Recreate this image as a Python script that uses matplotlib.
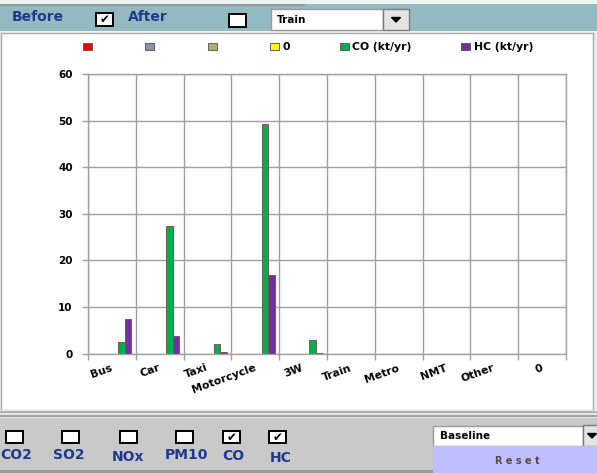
import matplotlib
matplotlib.use("Agg")
import matplotlib.pyplot as plt
from matplotlib.patches import Rectangle, Polygon, Patch

# ----------------------------------------------------------------------
# DATA
# ----------------------------------------------------------------------
categories = ["Bus", "Car", "Taxi", "Motorcycle", "3W", "Train", "Metro", "NMT", "Other", "0"]
series_labels = ["", "", "", "0", "CO (kt/yr)", "HC (kt/yr)"]
series_colors = ["#ff0000", "#8497b0", "#a9b26a", "#ffff00", "#00b050", "#7030a0"]
empty_values = [0, 0, 0, 0, 0, 0, 0, 0, 0, 0]
co_values = [2.5, 27.4, 2.0, 49.3, 2.9, 0, 0, 0, 0, 0]
hc_values = [7.5, 3.7, 0.3, 16.9, 0.2, 0, 0, 0, 0, 0]
series_values = [empty_values, empty_values, empty_values, empty_values, co_values, hc_values]
y_ticks = [0, 10, 20, 30, 40, 50, 60]

pollutants = ["CO2", "SO2", "NOx", "PM10", "CO", "HC"]
pollutant_checked = [False, False, False, False, True, True]

# ----------------------------------------------------------------------
W, H = 597, 473
NAVY = "#1f3a8c"
FONT = "DejaVu Sans"

fig = plt.figure(figsize=(W / 100, H / 100), dpi=100)
fig.patch.set_facecolor("#ececec")


def rect(x, y, w, h, **kw):
    """Rectangle in pixel coords measured from the top-left corner."""
    kw.setdefault("zorder", -1)
    fig.patches.append(Rectangle((x / W, 1 - (y + h) / H), w / W, h / H,
                                 transform=fig.transFigure, **kw))


def label(x, y, s, **kw):
    kw.setdefault("family", FONT)
    fig.text(x / W, 1 - y / H, s, **kw)


def checkbox(x, y, w, h, checked):
    rect(x, y, w, h, facecolor="white", edgecolor="black", linewidth=1.4)
    if checked:
        label(x + w / 2, y + h / 2 + 0.5, "\u2714", ha="center", va="center",
              fontsize=8.5, color="black")


def dropbutton(x, y, w, h):
    rect(x, y, w, h, facecolor="#e4e4e4", edgecolor="#7a7a7a", linewidth=1)
    cx, cy = x + w / 2, y + h / 2
    tri = [((cx - 4.5) / W, 1 - (cy - 2) / H), ((cx + 4.5) / W, 1 - (cy - 2) / H),
           (cx / W, 1 - (cy + 2.5) / H)]
    fig.patches.append(Polygon(tri, closed=True, transform=fig.transFigure,
                               facecolor="black", edgecolor="black", zorder=-1))


# top control bar
rect(0, 0, W, 33, facecolor="#f0f3f4", edgecolor="none")
rect(0, 4, W, 27, facecolor="#93b9c1", edgecolor="none")
rect(0, 4, 305, 2, facecolor="#9a9a9a", edgecolor="none")
label(12, 17, "Before", fontsize=10, fontweight="bold", color=NAVY, va="center")
checkbox(96, 13, 17, 13, True)
label(128, 17, "After", fontsize=10, fontweight="bold", color=NAVY, va="center")
checkbox(229, 14, 17, 13, False)
rect(271, 9, 112, 21, facecolor="white", edgecolor="#9a9a9a", linewidth=1)
label(277, 20, "Train", fontsize=7.5, fontweight="bold", color="black", va="center")
dropbutton(383, 9, 26, 21)

# chart area
rect(1, 33, 592, 377, facecolor="white", edgecolor="#a8a8a8", linewidth=1)

# bottom control bar
rect(0, 410, W, 8, facecolor="#e6e6e6", edgecolor="none")
rect(0, 411, W, 1.5, facecolor="#b0b0b0", edgecolor="none")
rect(0, 415, W, 1.5, facecolor="#a0a0a0", edgecolor="none")
rect(0, 418, W, 55, facecolor="#c9c9c9", edgecolor="none")
rect(0, 470, W, 3, facecolor="#9a9a9a", edgecolor="none")

box_x = [6, 62, 120, 176, 223, 269]
text_x = [16, 69, 128, 186, 233, 281]
text_y = [455, 455, 457, 455, 456, 458]
for name, checked, bx, tx, ty in zip(pollutants, pollutant_checked, box_x, text_x, text_y):
    checkbox(bx, 431, 17, 12, checked)
    label(tx, ty, name, fontsize=10, fontweight="bold", color=NAVY,
          ha="center", va="center")

rect(433, 426, 150, 20, facecolor="white", edgecolor="#9a9a9a", linewidth=1)
label(440, 436, "Baseline", fontsize=7.5, fontweight="bold", color="black", va="center")
dropbutton(583, 425, 18, 21)
rect(433, 446, 170, 28, facecolor="#bfbfff", edgecolor="none")
label(517, 461, "R e s e t", fontsize=7, fontweight="bold", color="#5a4848",
      ha="center", va="center")

# ----------------------------------------------------------------------
# bar chart
# ----------------------------------------------------------------------
left, right, top, bottom = 88, 566, 74, 353.5
ax = fig.add_axes([left / W, 1 - bottom / H, (right - left) / W, (bottom - top) / H])
ax.set_facecolor("none")

n_cat = len(categories)
bar_w = 0.137
start = -0.5 + 0.085
xs = range(n_cat)
for i, (vals, col) in enumerate(zip(series_values, series_colors)):
    pos = [x + start + bar_w * (i + 0.5) for x in xs]
    ax.bar(pos, vals, width=bar_w, color=col, edgecolor="#7a5a50",
           linewidth=0.7, zorder=2)

grid_c = "#a0a0a0"
ax.set_xlim(-0.5, n_cat - 0.5)
ax.set_ylim(0, 60)
ax.set_xticks([x - 0.5 for x in range(n_cat + 1)])
ax.set_xticklabels([])
ax.set_xticks(list(xs), minor=True)
ax.set_xticklabels(categories, minor=True, rotation=20, ha="right", va="center",
                   rotation_mode="anchor", fontsize=7.8, fontweight="bold", family=FONT)
ax.tick_params(axis="x", which="minor", length=0, pad=10)
ax.tick_params(axis="x", which="major", length=4, color=grid_c, width=1)
ax.set_yticks(y_ticks)
ax.set_yticklabels([str(v) for v in y_ticks], fontsize=7.5, fontweight="bold", family=FONT)
ax.tick_params(axis="y", length=4, color=grid_c, width=1, pad=7)
ax.grid(True, which="major", color=grid_c, linewidth=1)
ax.set_axisbelow(True)
for sp in ax.spines.values():
    sp.set_color(grid_c)
    sp.set_linewidth(1)

handles = [Patch(facecolor=c, edgecolor="#6a5a5a", linewidth=0.7) for c in series_colors]
fig.legend(handles, series_labels, ncol=6, loc="center",
           bbox_to_anchor=(308 / W, 1 - 47.5 / H), frameon=False,
           prop={"family": FONT, "weight": "bold", "size": 7.8},
           handlelength=0.85, handleheight=0.65, handletextpad=0.3,
           columnspacing=4.6, borderaxespad=0)

fig.savefig("out.png", dpi=100)
